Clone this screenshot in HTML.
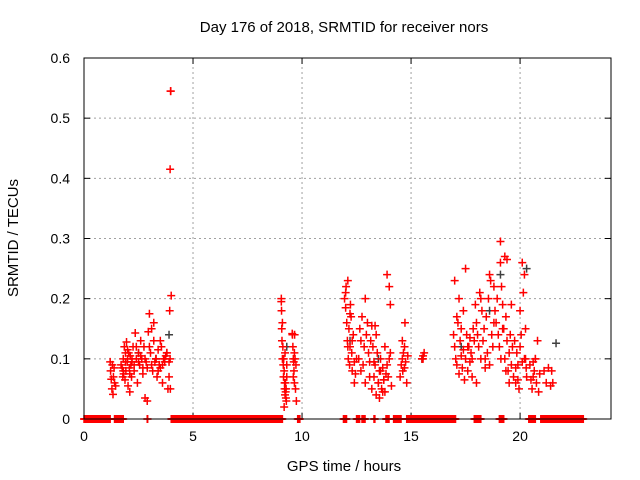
<!DOCTYPE html>
<html><head><meta charset="utf-8"><style>
body{margin:0;background:#fff}
svg{display:block;font-family:"Liberation Sans",sans-serif}
</style></head><body>
<svg id="chart" width="640" height="480" viewBox="0 0 640 480">
<rect width="640" height="480" fill="#fff"/>
<text x="344" y="32" font-size="15" text-anchor="middle">Day 176 of 2018, SRMTID for receiver nors</text>
<text x="0" y="0" font-size="15" text-anchor="middle" transform="translate(18,238) rotate(-90)">SRMTID / TECUs</text>
<text x="344" y="471" font-size="15" text-anchor="middle">GPS time / hours</text>
<g id="grid"></g>
<g id="axes"></g>
<g id="marks"></g>
<rect x="84" y="58" width="527" height="361" fill="none" stroke="#000" stroke-width="1"/>
</svg>
<script>
const xTicks=[0,5,10,15,20];
const yTicks=[0,0.1,0.2,0.3,0.4,0.5,0.6];
const yTickLabels=["0","0.1","0.2","0.3","0.4","0.5","0.6"];
const zeroRanges=[[0,1.2],[1.4,1.8],[2.9,2.92],[4.0,9.1],[9.8,9.9],[11.9,12.05],[12.5,12.65],[12.75,12.9],[13.3,13.35],[13.85,14.0],[14.2,14.55],[14.8,17.05],[17.9,18.2],[19.05,19.25],[20.4,20.7],[20.95,21.65],[21.7,22.9]];
const redTimes=[1.2,1.22,1.25,1.28,1.3,1.33,1.35,1.38,1.4,1.45,
1.7,1.75,1.78,1.8,1.82,1.85,1.88,1.9,1.92,1.95,1.98,2.0,2.02,2.05,2.08,2.1,2.12,2.15,2.18,2.2,2.25,2.3,2.35,2.4,2.45,2.5,2.55,2.6,2.65,2.7,2.75,2.8,2.85,2.9,2.95,3.0,3.05,3.1,3.15,3.2,3.25,3.3,3.35,3.4,3.45,3.5,3.55,3.6,3.65,3.7,3.75,3.8,3.85,3.9,3.95,
1.8,1.9,2.0,2.1,2.2,2.3,2.4,2.5,2.6,2.7,2.8,2.9,3.0,3.1,3.2,3.3,3.4,3.5,3.6,3.7,3.8,
3.97,3.98,3.95,4.0,3.93,3.9,3.96,
9.05,9.05,9.06,9.07,9.08,9.1,9.1,9.12,9.14,9.15,9.16,9.18,9.2,9.2,9.22,9.24,9.25,9.26,9.28,9.3,9.3,9.27,9.22,9.18,
9.55,9.56,9.58,9.6,9.62,9.63,9.65,9.66,9.68,9.7,9.72,9.74,9.6,9.65,
11.95,12.0,12.02,12.05,12.08,12.1,12.12,12.15,12.18,12.2,12.22,12.25,12.28,12.3,12.35,12.4,12.45,12.5,12.0,12.1,12.2,12.3,12.4,
12.6,12.65,12.7,12.75,12.8,12.85,12.9,12.95,13.0,13.05,13.1,13.15,13.2,12.7,12.9,13.1,
13.2,13.25,13.3,13.35,13.4,13.45,13.5,13.55,13.6,13.65,13.7,13.75,13.8,13.85,13.9,13.95,14.0,14.05,14.1,13.3,13.4,13.5,13.6,13.7,13.8,13.9,14.0,14.05,13.35,13.55,13.75,
14.5,14.55,14.6,14.62,14.65,14.7,14.72,14.75,14.8,14.85,14.6,14.7,
15.5,15.55,15.6,15.55,
16.95,17.0,17.05,17.1,17.15,17.2,17.25,17.3,17.35,17.4,17.45,17.5,17.55,17.6,17.65,17.7,17.75,17.8,17.85,17.9,17.0,17.1,17.2,17.3,17.4,17.5,17.6,17.7,17.8,
17.95,18.0,18.05,18.1,18.15,18.2,18.25,18.3,18.35,18.4,18.45,18.5,18.55,18.6,18.65,18.7,18.75,18.8,18.0,18.2,18.4,18.6,18.8,
18.85,18.9,18.95,19.0,19.05,19.1,19.15,19.2,19.25,19.3,19.35,19.4,19.45,19.5,19.55,19.6,19.65,19.7,19.1,19.2,19.3,19.4,19.5,19.6,19.12,19.35,
19.75,19.8,19.85,19.9,19.95,20.0,20.05,20.1,20.15,20.2,20.25,20.3,19.8,19.9,20.0,20.1,20.2,20.25,20.28,
20.45,20.5,20.55,20.6,20.65,20.7,20.75,20.8,20.85,20.9,20.6,20.7,
21.1,21.2,21.3,21.4,21.45,21.5,21.6,21.65];
const redValues=[0.095,0.08,0.066,0.05,0.09,0.041,0.07,0.085,0.06,0.055,
0.09,0.085,0.07,0.1,0.075,0.12,0.065,0.11,0.08,0.128,0.095,0.1,0.055,0.11,0.085,0.045,0.105,0.09,0.07,0.095,0.12,0.08,0.143,0.1,0.06,0.11,0.09,0.13,0.1,0.075,0.12,0.035,0.095,0.085,0.145,0.175,0.11,0.15,0.08,0.13,0.095,0.1,0.07,0.115,0.09,0.085,0.12,0.06,0.1,0.095,0.105,0.11,0.05,0.095,0.1,
0.08,0.095,0.115,0.075,0.1,0.09,0.12,0.095,0.105,0.085,0.1,0.03,0.12,0.09,0.16,0.1,0.08,0.13,0.09,0.1,0.11,
0.545,0.545,0.415,0.205,0.18,0.07,0.05,
0.2,0.195,0.18,0.15,0.13,0.1,0.16,0.12,0.09,0.07,0.1,0.08,0.06,0.05,0.04,0.06,0.045,0.035,0.03,0.09,0.07,0.05,0.11,0.02,
0.142,0.14,0.12,0.1,0.095,0.08,0.06,0.14,0.1,0.05,0.09,0.03,0.07,0.11,
0.2,0.185,0.22,0.16,0.13,0.23,0.1,0.15,0.09,0.12,0.19,0.17,0.11,0.08,0.14,0.095,0.075,0.1,0.21,0.12,0.175,0.13,0.06,
0.1,0.15,0.13,0.17,0.09,0.12,0.2,0.14,0.16,0.11,0.095,0.13,0.155,0.08,0.06,0.07,
0.05,0.12,0.07,0.09,0.04,0.11,0.06,0.08,0.1,0.05,0.085,0.065,0.045,0.075,0.09,0.07,0.1,0.11,0.055,0.095,0.14,0.06,0.08,0.045,0.12,0.24,0.22,0.19,0.155,0.035,0.065,
0.07,0.09,0.1,0.08,0.11,0.12,0.16,0.095,0.06,0.105,0.13,0.085,
0.1,0.105,0.11,0.1,
0.14,0.12,0.1,0.09,0.16,0.075,0.13,0.105,0.085,0.115,0.065,0.1,0.14,0.08,0.12,0.095,0.11,0.07,0.15,0.13,
0.23,0.17,0.2,0.15,0.18,0.25,0.12,0.135,0.1,
0.19,0.16,0.14,0.12,0.21,0.1,0.18,0.13,0.15,0.085,0.17,0.11,0.2,0.09,0.23,0.14,0.12,0.16,0.06,0.2,0.1,0.24,0.22,
0.18,0.16,0.2,0.14,0.12,0.26,0.22,0.19,0.15,0.1,0.17,0.13,0.08,0.11,0.14,0.09,0.12,0.07,0.295,0.15,0.27,0.265,0.06,0.19,
0.1,0.08,0.13,0.06,0.11,0.09,0.05,0.12,0.14,0.26,0.21,0.1,0.15,0.07,0.085,0.065,0.18,0.095,0.24,
0.1,0.085,0.09,0.065,0.05,0.095,0.08,0.1,0.06,0.13,0.045,0.075,
0.07,0.1,0.08,0.06,0.085,0.055,0.08,0.06];
const grayTimes=[2.5,3.3,3.9,9.3,12.2,13.5,15.5,17.3,19.1,20.3,21.65,18.6];
const grayValues=[0.11,0.1,0.14,0.12,0.13,0.1,0.1,0.12,0.24,0.25,0.126,0.18];

const X0=84,X1=611,Y0=419,Y1=58,XMAX=24.17,YMAX=0.6;
const xs=t=>X0+(X1-X0)*t/XMAX;
const ys=v=>Y0-(Y0-Y1)*v/YMAX;
const NS="http://www.w3.org/2000/svg";
function mk(tag,attrs,parent){const e=document.createElementNS(NS,tag);for(const k in attrs)e.setAttribute(k,attrs[k]);parent.appendChild(e);return e;}
const grid=document.getElementById('grid'),axes=document.getElementById('axes'),marks=document.getElementById('marks');
xTicks.forEach(t=>{
  const x=xs(t);
  if(t>0){const g=mk('line',{x1:x,x2:x,y1:Y0,y2:Y1,stroke:'#a0a0a0','stroke-dasharray':'2,3'},grid);
  
  }
  mk('line',{x1:x,x2:x,y1:Y0,y2:Y0-6,stroke:'#000'},axes);
  mk('line',{x1:x,x2:x,y1:Y1,y2:Y1+6,stroke:'#000'},axes);
  const l=mk('text',{x:x,y:Y0+22,'font-size':14,'text-anchor':'middle'},axes);
  l.textContent=t;
  
  
});
yTicks.forEach((v,i)=>{
  const y=ys(v);
  if(v>0&&v<YMAX){const g=mk('line',{x1:X0,x2:X1,y1:y,y2:y,stroke:'#a0a0a0','stroke-dasharray':'2,3'},grid);
  
  }
  mk('line',{x1:X0,x2:X0+6,y1:y,y2:y,stroke:'#000'},axes);
  mk('line',{x1:X1,x2:X1-6,y1:y,y2:y,stroke:'#000'},axes);
  const l=mk('text',{x:X0-14,y:y+5,'font-size':14,'text-anchor':'end'},axes);
  l.textContent=yTickLabels[i];
  
  
});
function plus(t,v,color,name){
  const x=xs(t),y=ys(v);
  const p=mk('path',{d:`M${x-4},${y}H${x+4}M${x},${y-4}V${y+4}`,stroke:color,'stroke-width':1.5,fill:'none'},marks);
  
  
}
zeroRanges.forEach(r=>{for(let t=r[0];t<=r[1]+1e-9;t+=0.02)plus(t,0,'#f00','zero-point');});
grayTimes.forEach((t,i)=>plus(t,grayValues[i],'#404040','gray-point'));
redTimes.forEach((t,i)=>plus(t,redValues[i],'#f00','red-point'));
</script>
</body></html>
